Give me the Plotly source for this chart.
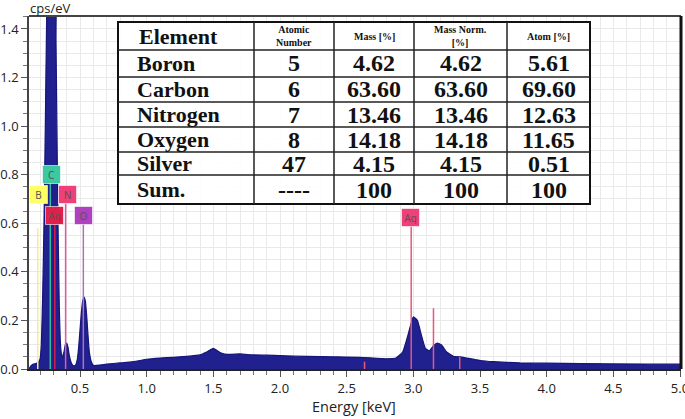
import plotly.graph_objects as go

# ---------------- data ----------------
energy_kev = [0.118, 0.13, 0.15, 0.17, 0.19, 0.20, 0.21, 0.22, 0.23, 0.24, 0.25, 0.26,
              0.31, 0.32, 0.335, 0.345, 0.355, 0.365, 0.38, 0.39, 0.40, 0.41, 0.42,
              0.435, 0.45, 0.465, 0.48, 0.49, 0.50, 0.51, 0.52, 0.53, 0.54, 0.55, 0.56,
              0.57, 0.585, 0.60, 0.65, 0.70, 0.80, 0.90, 1.00, 1.10, 1.20, 1.30, 1.40,
              1.45, 1.50, 1.55, 1.60, 1.70, 1.80, 1.90, 2.00, 2.20, 2.40, 2.60, 2.80,
              2.87, 2.92, 2.96, 3.00, 3.03, 3.06, 3.09, 3.12, 3.15, 3.18, 3.21, 3.25,
              3.30, 3.35, 3.40, 3.50, 3.60, 3.80, 4.00, 4.50, 5.00, 5.0075]
counts_cps_ev = [0.0, 0.012, 0.02, 0.022, 0.03, 0.04, 0.10, 0.30, 0.60, 1.00, 1.45, 1.90,
                 1.90, 1.35, 0.60, 0.25, 0.09, 0.045, 0.07, 0.10, 0.107, 0.09, 0.055,
                 0.025, 0.013, 0.015, 0.04, 0.09, 0.16, 0.23, 0.28, 0.296, 0.28, 0.22, 0.14,
                 0.07, 0.03, 0.015, 0.016, 0.02, 0.025, 0.03, 0.04, 0.045, 0.048, 0.052, 0.058,
                 0.07, 0.085, 0.068, 0.06, 0.062, 0.058, 0.057, 0.055, 0.052, 0.05, 0.048, 0.042,
                 0.045, 0.07, 0.14, 0.215, 0.20, 0.14, 0.085, 0.075, 0.095, 0.107, 0.10, 0.07,
                 0.052, 0.05, 0.045, 0.035, 0.03, 0.025, 0.024, 0.021, 0.02, 0.02]

# element marker lines
marker_energy = [0.183, 0.277, 0.311, 0.392, 0.525, 2.984, 3.151, 3.348, 2.634]
marker_height = [0.58, 0.78, 0.60, 0.69, 0.60, 0.60, 0.25, 0.05, 0.03]
marker_color = ["#f4f08a", "#2fbf9f", "#d81b4a", "#e25aa0", "#b070c0",
                "#e8587a", "#e8587a", "#e8587a", "#e8587a"]

# element label boxes
label_text = ["B", "C", "N", "Ag", "O", "Ag"]
label_x = [0.185, 0.2825, 0.4025, 0.305, 0.5225, 2.975]
label_y = [0.72, 0.80, 0.72, 0.63, 0.63, 0.625]
label_fill = ["#ffff66", "#3cc8a0", "#f0407a", "#e0204a", "#b040c0", "#f0407a"]

# table
table_header = ["Element", "Atomic<br>Number", "Mass [%]", "Mass Norm.<br>[%]", "Atom [%]"]
elements = ["Boron", "Carbon", "Nitrogen", "Oxygen", "Silver", "Sum."]
atomic_number = ["5", "6", "7", "8", "47", "----"]
mass_pct = ["4.62", "63.60", "13.46", "14.18", "4.15", "100"]
mass_norm_pct = ["4.62", "63.60", "13.46", "14.18", "4.15", "100"]
atom_pct = ["5.61", "69.60", "12.63", "11.65", "0.51", "100"]

# ---------------- layout geometry (pixels) ----------------
W, H = 685, 419
L, R, T, B = 29, 681, 16, 369
X0, X1 = 0.1175, 5.0075
Y0, Y1 = 0.0, (B - T) / 242.9


def px(xp):
    return (xp - L) / (R - L)


def py(yp):
    return (B - yp) / (B - T)


fig = go.Figure()

fig.add_trace(go.Scatter(
    x=energy_kev, y=counts_cps_ev, mode="lines",
    line=dict(color="#15157a", width=1.2, shape="spline", smoothing=0.4),
    fill="tozeroy", fillcolor="#20208f", hoverinfo="skip", showlegend=False))

shapes = []
for e, h, c in zip(marker_energy, marker_height, marker_color):
    shapes.append(dict(type="line", xref="x", yref="y", x0=e, x1=e, y0=0, y1=h,
                       line=dict(color=c, width=1.5), layer="above"))

annotations = []
for t, x, y, c in zip(label_text, label_x, label_y, label_fill):
    annotations.append(dict(x=x, y=y, xref="x", yref="y", text=t, showarrow=False,
                            bgcolor=c, bordercolor="rgba(255,255,255,0.6)", borderwidth=1,
                            borderpad=2, font=dict(size=10, color="#555555",
                                                   family="Noto Sans"),
                            width=13, height=13))

# frame: top and right borders
shapes.append(dict(type="line", xref="paper", yref="paper", x0=0, x1=1, y0=1, y1=1,
                   line=dict(color="#444444", width=2), layer="above"))
shapes.append(dict(type="line", xref="paper", yref="paper", x0=1, x1=1, y0=0, y1=1,
                   line=dict(color="#111111", width=3), layer="above"))

# table
col_edges = [118, 254, 334, 414, 507, 590]
row_edges = [22, 50, 77, 102, 127, 152, 175, 204]
shapes.append(dict(type="rect", xref="paper", yref="paper",
                   x0=px(col_edges[0]), x1=px(col_edges[-1]),
                   y0=py(row_edges[-1]), y1=py(row_edges[0]),
                   fillcolor="rgba(255,255,255,0.9)",
                   line=dict(color="#111111", width=2), layer="above"))
for cx in col_edges[1:-1]:
    shapes.append(dict(type="line", xref="paper", yref="paper", x0=px(cx), x1=px(cx),
                       y0=py(row_edges[-1]), y1=py(row_edges[0]),
                       line=dict(color="#222222", width=1.5), layer="above"))
for ry in row_edges[1:-1]:
    shapes.append(dict(type="line", xref="paper", yref="paper",
                       x0=px(col_edges[0]), x1=px(col_edges[-1]), y0=py(ry), y1=py(ry),
                       line=dict(color="#222222", width=1.5), layer="above"))

serif = "Liberation Serif"
# header
for i, htxt in enumerate(table_header):
    cx = (col_edges[i] + col_edges[i + 1]) / 2
    cy = (row_edges[0] + row_edges[1]) / 2
    if i == 0:
        annotations.append(dict(x=px(137), y=py(cy), xref="paper", yref="paper",
                                xanchor="left", yanchor="middle", text="<b>" + htxt + "</b>",
                                showarrow=False,
                                font=dict(family=serif, size=22, color="#111111")))
    else:
        annotations.append(dict(x=px(cx), y=py(cy), xref="paper", yref="paper",
                                xanchor="center", yanchor="middle",
                                text="<b>" + htxt + "</b>", showarrow=False,
                                font=dict(family=serif, size=10, color="#111111")))

columns = [atomic_number, mass_pct, mass_norm_pct, atom_pct]
for r in range(len(elements)):
    cy = (row_edges[r + 1] + row_edges[r + 2]) / 2
    annotations.append(dict(x=px(135), y=py(cy), xref="paper", yref="paper",
                            xanchor="left", yanchor="middle",
                            text="<b>" + elements[r] + "</b>", showarrow=False,
                            font=dict(family=serif, size=22, color="#111111")))
    for c, col in enumerate(columns):
        cx = (col_edges[c + 1] + col_edges[c + 2]) / 2
        annotations.append(dict(x=px(cx), y=py(cy), xref="paper", yref="paper",
                                xanchor="center", yanchor="middle",
                                text="<b>" + col[r] + "</b>", showarrow=False,
                                font=dict(family=serif, size=24, color="#111111")))

# axis titles
annotations.append(dict(x=px(28), y=py(8), xref="paper", yref="paper", xanchor="left",
                        yanchor="middle", text="cps/eV", showarrow=False,
                        font=dict(family="Open Sans", size=13, color="#222222")))
annotations.append(dict(x=px(354), y=py(406), xref="paper", yref="paper",
                        xanchor="center", yanchor="middle", text="Energy [keV]",
                        showarrow=False,
                        font=dict(family="Open Sans", size=14.5, color="#222222")))

grid_c = "#e9e9e9"
fig.update_layout(
    width=W, height=H,
    margin=dict(l=L, r=W - R, t=T, b=H - B, pad=0, autoexpand=False),
    paper_bgcolor="white", plot_bgcolor="white",
    shapes=shapes, annotations=annotations,
    showlegend=False,
    xaxis=dict(range=[X0, X1], dtick=0.5, tick0=0, tickformat=".1f",
               automargin=False, ticklabeloverflow="allow",
               showgrid=True, gridcolor=grid_c, gridwidth=1,
               ticks="outside", ticklen=6, tickcolor="#555555",
               showline=True, linecolor="#222222", linewidth=2,
               zeroline=False,
               tickfont=dict(family="Open Sans", size=13, color="#222222"),
               minor=dict(dtick=0.1, showgrid=True, gridcolor=grid_c, ticks="outside",
                          ticklen=4, tickcolor="#777777")),
    yaxis=dict(range=[Y0, Y1], dtick=0.2, tick0=0, tickformat=".1f",
               automargin=False,
               showgrid=True, gridcolor=grid_c, gridwidth=1,
               ticks="outside", ticklen=6, tickcolor="#555555",
               showline=True, linecolor="#444444", linewidth=1.5,
               zeroline=False,
               tickfont=dict(family="Open Sans", size=13, color="#222222"),
               minor=dict(dtick=0.05, showgrid=True, gridcolor=grid_c, ticks="outside",
                          ticklen=4, tickcolor="#777777")),
)

fig.write_html("out.html", config={"displayModeBar": False},
               post_script="document.body.style.margin='0';document.body.style.padding='0';")
